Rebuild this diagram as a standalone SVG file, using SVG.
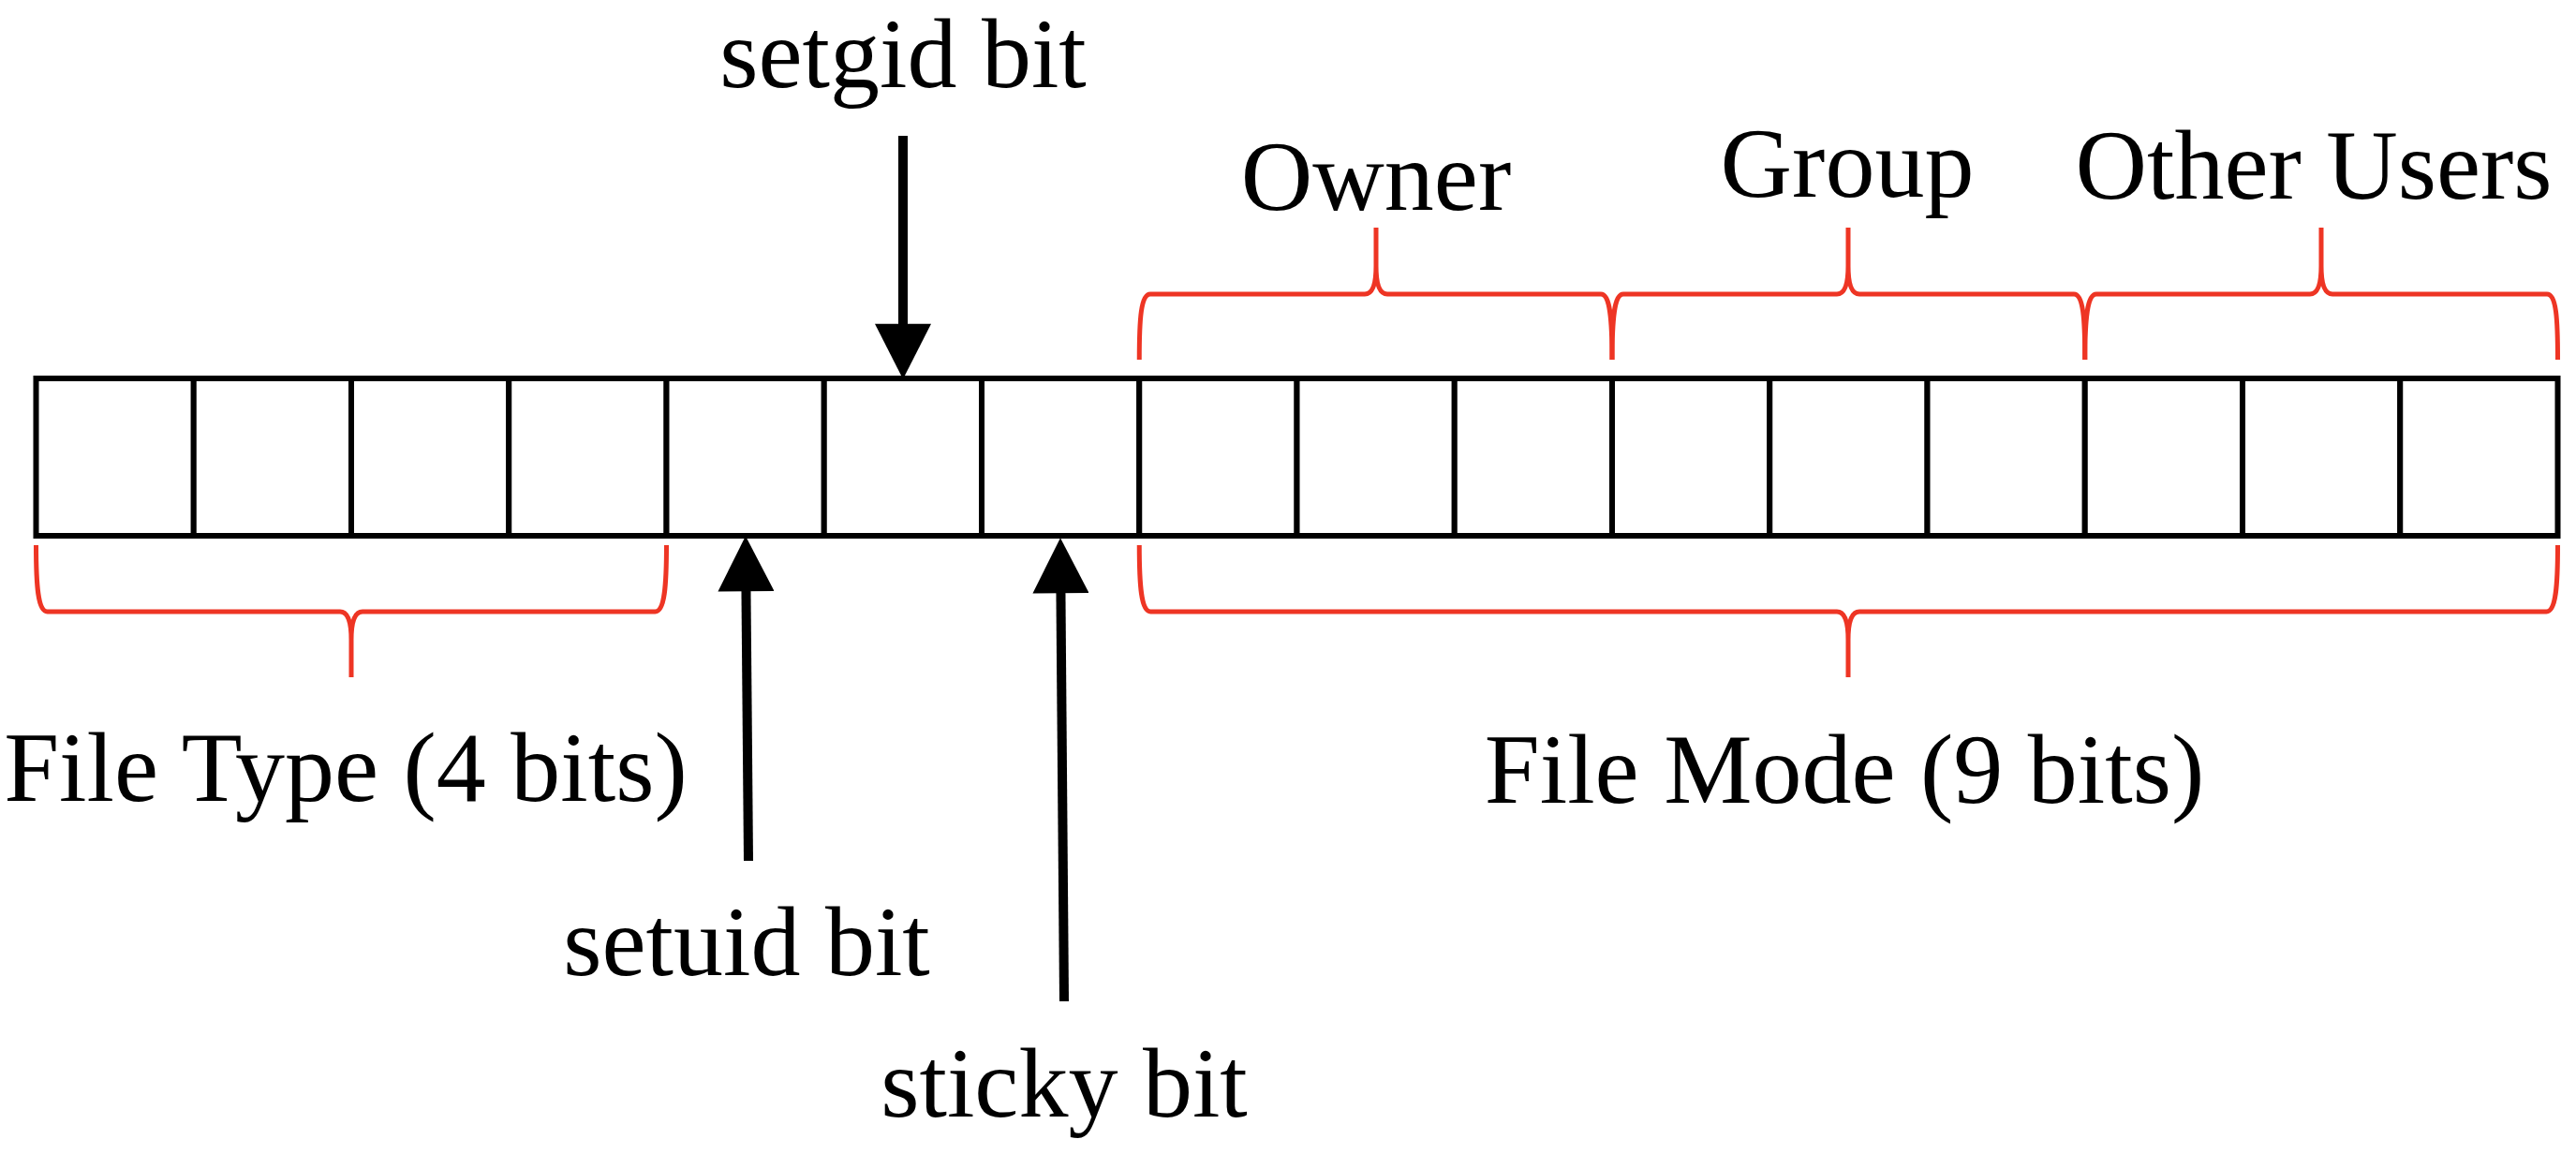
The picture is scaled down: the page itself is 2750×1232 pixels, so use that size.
<svg xmlns="http://www.w3.org/2000/svg" width="2750" height="1232" viewBox="0 0 2750 1232">
<style>
.cell{fill:#fff;stroke:#000;stroke-width:6}
.brace{fill:none;stroke:#EE3524;stroke-width:5;stroke-linejoin:round}
.arrow{fill:none;stroke:#000;stroke-width:10;marker-end:url(#head)}
.lbl{font-family:"Liberation Serif","Times New Roman",serif;font-size:106px;fill:#000;text-anchor:middle}
</style>
<defs>
<marker id="head" markerUnits="userSpaceOnUse" markerWidth="60" markerHeight="60" viewBox="0 0 57 58" refX="7" refY="29" orient="auto">
<path d="M0,0 L57,29 L0,58 z" fill="#000"/>
</marker>
</defs>
<rect width="2750" height="1232" fill="#fff"/>
<g id="register">
<rect class="cell" x="38.5" y="404" width="168.25" height="168"/>
<rect class="cell" x="206.75" y="404" width="168.25" height="168"/>
<rect class="cell" x="375" y="404" width="168.25" height="168"/>
<rect class="cell" x="543.25" y="404" width="168.25" height="168"/>
<rect class="cell" x="711.5" y="404" width="168.25" height="168"/>
<rect class="cell" x="879.75" y="404" width="168.25" height="168"/>
<rect class="cell" x="1048" y="404" width="168.25" height="168"/>
<rect class="cell" x="1216.25" y="404" width="168.25" height="168"/>
<rect class="cell" x="1384.5" y="404" width="168.25" height="168"/>
<rect class="cell" x="1552.75" y="404" width="168.25" height="168"/>
<rect class="cell" x="1721" y="404" width="168.25" height="168"/>
<rect class="cell" x="1889.25" y="404" width="168.25" height="168"/>
<rect class="cell" x="2057.5" y="404" width="168.25" height="168"/>
<rect class="cell" x="2225.75" y="404" width="168.25" height="168"/>
<rect class="cell" x="2394" y="404" width="168.25" height="168"/>
<rect class="cell" x="2562.25" y="404" width="168.25" height="168"/>
</g>
<g id="brace-owner">
<path class="brace" d="M1216.25,384 C1216.25,340 1218,314 1228,314 L1457,314 C1466,314 1469,302 1469,284 L1469,243 M1721,384 C1721,340 1719,314 1709,314 L1481,314 C1472,314 1469,302 1469,284"/>
<text class="lbl" x="1469" y="224">Owner</text>
</g>
<g id="brace-group">
<path class="brace" d="M1721,384 C1721,340 1723,314 1733,314 L1961,314 C1970,314 1973,302 1973,284 L1973,243 M2225.75,384 C2225.75,340 2224,314 2214,314 L1985,314 C1976,314 1973,302 1973,284"/>
<text class="lbl" x="1972" y="210">Group</text>
</g>
<g id="brace-other">
<path class="brace" d="M2225.75,384 C2225.75,340 2228,314 2238,314 L2466,314 C2475,314 2478,302 2478,284 L2478,243 M2730.5,384 C2730.5,340 2729,314 2719,314 L2490,314 C2481,314 2478,302 2478,284"/>
<text class="lbl" x="2470" y="212">Other Users</text>
</g>
<g id="brace-filetype">
<path class="brace" d="M38.5,582 C38.5,626 40.5,653 50.5,653 L363,653 C372,653 375,665 375,683 L375,723 M711.5,582 C711.5,626 709.5,653 699.5,653 L387,653 C378,653 375,665 375,683"/>
<text class="lbl" x="369" y="855">File Type (4 bits)</text>
</g>
<g id="brace-filemode">
<path class="brace" d="M1216.25,582 C1216.25,626 1218.25,653 1228.25,653 L1961,653 C1970,653 1973,665 1973,683 L1973,723 M2730.5,582 C2730.5,626 2728.5,653 2718.5,653 L1985,653 C1976,653 1973,665 1973,683"/>
<text class="lbl" x="1969" y="857">File Mode (9 bits)</text>
</g>
<g id="setgid">
<text class="lbl" x="964" y="93">setgid bit</text>
</g>
<g id="setuid">
<text class="lbl" x="797" y="1041">setuid bit</text>
</g>
<g id="sticky">
<text class="lbl" x="1136" y="1192">sticky bit</text>
</g>
<g id="connectors">
<path class="arrow" d="M964,145 L964,353"/>
<path class="arrow" d="M799,919 L796.4,624"/>
<path class="arrow" d="M1136,1069 L1132.4,626"/>
</g>
</svg>
